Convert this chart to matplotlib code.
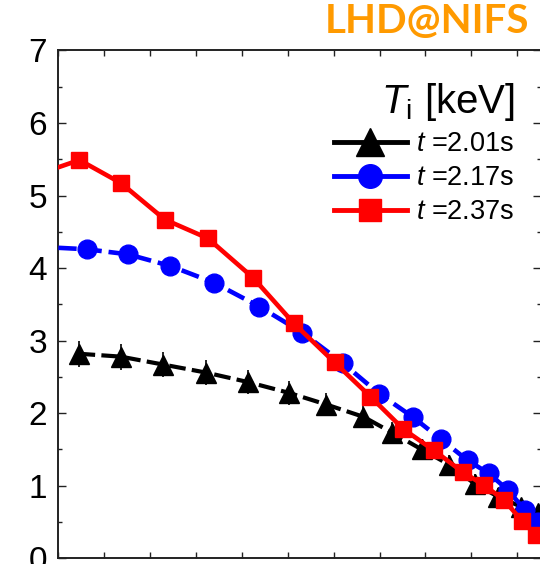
import matplotlib
matplotlib.use("Agg")
import matplotlib.pyplot as plt
from matplotlib.lines import Line2D
from matplotlib.ticker import MultipleLocator

plt.rcParams["font.family"] = ["Liberation Sans", "DejaVu Sans"]
plt.rcParams["mathtext.fontset"] = "custom"
plt.rcParams["mathtext.rm"] = "Liberation Sans"
plt.rcParams["mathtext.it"] = "Liberation Sans:italic"

# --- data (normalised radius vs Ti [keV]) ---
black_x = [0.044, 0.136, 0.229, 0.322, 0.413, 0.503, 0.584, 0.665, 0.728,
           0.792, 0.852, 0.907, 0.958, 1.009, 1.045]
black_y = [2.82, 2.78, 2.67, 2.56, 2.43, 2.28, 2.12, 1.95, 1.73,
           1.50, 1.29, 1.03, 0.85, 0.71, 0.62]
black_err = [0.18, 0.18, 0.17, 0.17, 0.17, 0.16, 0.16, 0.16, 0.15,
             0.15, 0.14, 0.13, 0.12, 0.11, 0.10]

blue_x = [0.062, 0.152, 0.244, 0.339, 0.438, 0.532, 0.620, 0.699, 0.772,
          0.834, 0.892, 0.938, 0.980, 1.016, 1.045]
blue_y = [4.26, 4.19, 4.03, 3.80, 3.47, 3.11, 2.69, 2.27, 1.95,
          1.64, 1.35, 1.17, 0.94, 0.67, 0.50]
blue_at_axis = 4.28

red_x = [0.046, 0.137, 0.232, 0.326, 0.424, 0.513, 0.602, 0.680, 0.752,
         0.818, 0.881, 0.927, 0.972, 1.011, 1.041]
red_y = [5.49, 5.17, 4.67, 4.41, 3.87, 3.24, 2.70, 2.23, 1.78,
         1.49, 1.19, 1.01, 0.80, 0.51, 0.32]
red_at_axis = 5.39

labels = ["$t$ =2.01s", "$t$ =2.17s", "$t$ =2.37s"]
legend_title = r"$T_{\mathrm{i}}$ [keV]"

fig = plt.figure(figsize=(5.4, 5.64), dpi=100)
ax = fig.add_axes([0.108, 0.0101, 0.894, 0.9004])

# black: dashed + triangles with error bars
ax.errorbar(black_x, black_y, yerr=black_err, fmt="none", ecolor="black",
            elinewidth=1.2, capsize=0, zorder=2)
ax.plot(black_x, black_y, color="black", lw=3.0, dashes=(4, 1.5), zorder=2)
ax.plot(black_x, black_y, ls="none", marker="^", ms=15, color="black", zorder=3)

# blue: dashed + circles
ax.plot([0.0] + blue_x, [blue_at_axis] + blue_y, color="#0000ff", lw=3.3,
        dashes=(4, 1.5), zorder=4)
ax.plot(blue_x, blue_y, ls="none", marker="o", ms=13.5, color="#0000ff", zorder=5)

# red: solid + squares
ax.plot([0.0] + red_x, [red_at_axis] + red_y, color="#ff0000", lw=3.3, zorder=6)
ax.plot(red_x, red_y, ls="none", marker="s", ms=11.5, color="#ff0000", zorder=7)

ax.set_xlim(0, 1.052)
ax.set_ylim(0, 7)
ax.xaxis.set_major_locator(MultipleLocator(0.1))
ax.yaxis.set_major_locator(MultipleLocator(1))
ax.yaxis.set_minor_locator(MultipleLocator(0.5))
ax.tick_params(axis="both", which="both", direction="in", top=True, right=True,
               width=1.0, color="#222222")
ax.tick_params(axis="x", which="major", length=4.5, labelbottom=False)
ax.tick_params(axis="y", which="major", length=5.5, labelsize=24, pad=8)
ax.tick_params(axis="y", which="minor", length=3)
for sp in ax.spines.values():
    sp.set_linewidth(1.4)
    sp.set_color("#222222")

handles = [
    Line2D([], [], color="black", lw=3.5, marker="^", ms=20),
    Line2D([], [], color="#0000ff", lw=3.5, marker="o", ms=17),
    Line2D([], [], color="#ff0000", lw=3.5, marker="s", ms=16),
]
leg = ax.legend(handles, labels, title=legend_title, loc="upper right",
                bbox_to_anchor=(0.945, 0.94), frameon=False, fontsize=19.5,
                title_fontsize=29, handlelength=2.7, handletextpad=0.35,
                labelspacing=0.3, borderpad=0, borderaxespad=0,
                alignment="right")

fig.text(0.981, 0.942, "LHD@NIFS", color="#ff9a00", fontsize=29,
         fontweight="bold", family=["Lato", "DejaVu Sans"], ha="right",
         va="baseline")

fig.savefig("out.png", dpi=100)
